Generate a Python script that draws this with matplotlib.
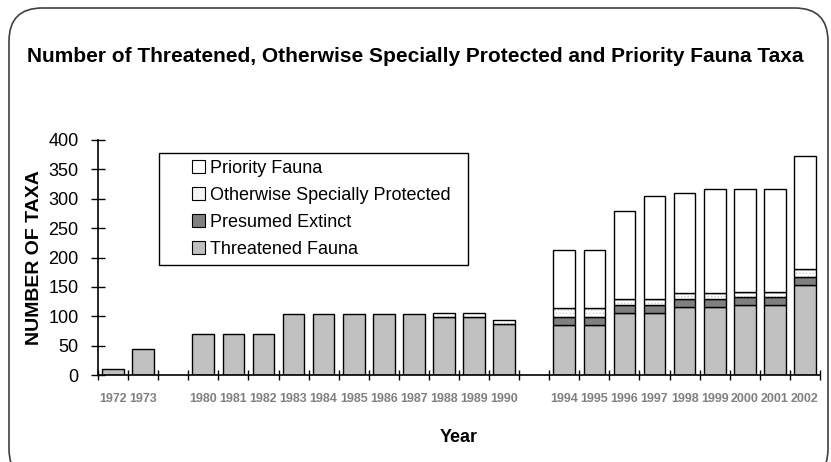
import matplotlib
matplotlib.use("Agg")
import matplotlib.pyplot as plt
from matplotlib.patches import FancyBboxPatch, Patch, Rectangle
import numpy as np

years = ['1972', '1973', '', '1980', '1981', '1982', '1983', '1984', '1985', '1986',
         '1987', '1988', '1989', '1990', '', '1994', '1995', '1996', '1997', '1998',
         '1999', '2000', '2001', '2002']
threatened = [10, 44, 0, 70, 70, 70, 104, 104, 104, 104, 104, 98, 98, 86, 0,
              85, 85, 105, 105, 116, 116, 119, 119, 153]
presumed_extinct = [0, 0, 0, 0, 0, 0, 0, 0, 0, 0, 0, 0, 0, 0, 0,
                    13, 13, 14, 14, 13, 13, 13, 13, 13]
specially_protected = [0, 0, 0, 0, 0, 0, 0, 0, 0, 0, 0, 8, 8, 8, 0,
                       16, 16, 11, 11, 11, 11, 10, 10, 14]
priority = [0, 0, 0, 0, 0, 0, 0, 0, 0, 0, 0, 0, 0, 0, 0,
            99, 99, 150, 174, 169, 176, 174, 174, 192]
yticks = [0, 50, 100, 150, 200, 250, 300, 350, 400]

FAM = ['Liberation Sans', 'DejaVu Sans']

W, H = 831, 462
fig = plt.figure(figsize=(W / 100, H / 100), dpi=100)
fig.patch.set_facecolor('white')

# rounded frame
frame = FancyBboxPatch((9 / W, -20 / H), (828 - 9) / W, (462 - 8 + 20) / H,
                       boxstyle="round,pad=0,rounding_size=0.04",
                       transform=fig.transFigure, facecolor='none',
                       edgecolor='#404040', linewidth=1.2, mutation_aspect=W / H)
fig.patches.append(frame)

ax = fig.add_axes([98 / W, 1 - 375 / H, (820 - 98) / W, (375 - 140) / H])

x = np.arange(len(years))
t = np.array(threatened)
p = np.array(presumed_extinct)
s = np.array(specially_protected)
r = np.array(priority)
bw = 0.72

def draw(vals, bottom, color, hatch=None):
    mask = vals > 0
    if hatch:
        ax.bar(x[mask], vals[mask], bottom=bottom[mask], width=bw, color=color,
               hatch=hatch, edgecolor='#cfcfcf', linewidth=0)
        ax.bar(x[mask], vals[mask], bottom=bottom[mask], width=bw, fill=False,
               edgecolor='black', linewidth=1.0)
    else:
        ax.bar(x[mask], vals[mask], bottom=bottom[mask], width=bw, color=color,
               edgecolor='black', linewidth=1.0)

zero = np.zeros(len(x))
plt.rcParams['hatch.linewidth'] = 0.6
draw(t, zero, '#c0c0c0')
draw(p, t, '#808080')
draw(s, t + p, 'white', hatch='.....')
draw(r, t + p + s, 'white')

ax.set_xlim(-0.5, len(years) - 0.5)
ax.set_ylim(0, 400)
ax.set_yticks(yticks)
ax.set_yticklabels([str(v) for v in yticks], fontsize=13, family=FAM)
ax.tick_params(axis='y', direction='inout', length=10, width=1, pad=9)

ax.set_xticks(x)
ax.set_xticklabels(years, fontsize=9, fontweight='bold', color='#808080',
                   family=FAM)
ax.tick_params(axis='x', length=0, pad=13)
ax.set_xticks(np.arange(-0.5, len(years), 1.0), minor=True)
ax.tick_params(axis='x', which='minor', direction='inout', length=7, width=1)

for sp in ['top', 'right']:
    ax.spines[sp].set_visible(False)
for sp in ['left', 'bottom']:
    ax.spines[sp].set_linewidth(1.2)

ax.set_ylabel('NUMBER OF TAXA', fontsize=14, fontweight='bold',
              family=FAM, labelpad=4)
ax.set_xlabel('Year', fontsize=13, fontweight='bold', family=FAM, labelpad=17)

fig.text(0.5, 1 - 57 / H,
         'Number of Threatened, Otherwise Specially Protected and Priority Fauna Taxa',
         ha='center', va='center', fontsize=15, fontweight='bold', family=FAM)

handles = [Patch(facecolor='white', edgecolor='black', linewidth=0.8),
           Patch(facecolor='#f4f4f4', edgecolor='black', linewidth=0.8),
           Patch(facecolor='#808080', edgecolor='black', linewidth=0.8),
           Patch(facecolor='#c0c0c0', edgecolor='black', linewidth=0.8)]
labels = ['Priority Fauna', 'Otherwise Specially Protected', 'Presumed Extinct',
          'Threatened Fauna']
# legend border box
ax.add_patch(Rectangle((159 / W, 1 - 265 / H), (468 - 159) / W, (265 - 153) / H,
                       transform=fig.transFigure, facecolor='white',
                       edgecolor='black', linewidth=1.0, zorder=4, clip_on=False))
leg = ax.legend(handles, labels, loc='upper left',
                bbox_to_anchor=(192 / W, 1 - 160 / H),
                bbox_transform=fig.transFigure,
                borderaxespad=0, frameon=False,
                prop={'family': FAM, 'size': 13},
                handlelength=0.7, handleheight=0.7, handletextpad=0.3,
                labelspacing=0.55, borderpad=0)
leg.set_zorder(5)

fig.savefig('out.png', dpi=100, facecolor='white')
